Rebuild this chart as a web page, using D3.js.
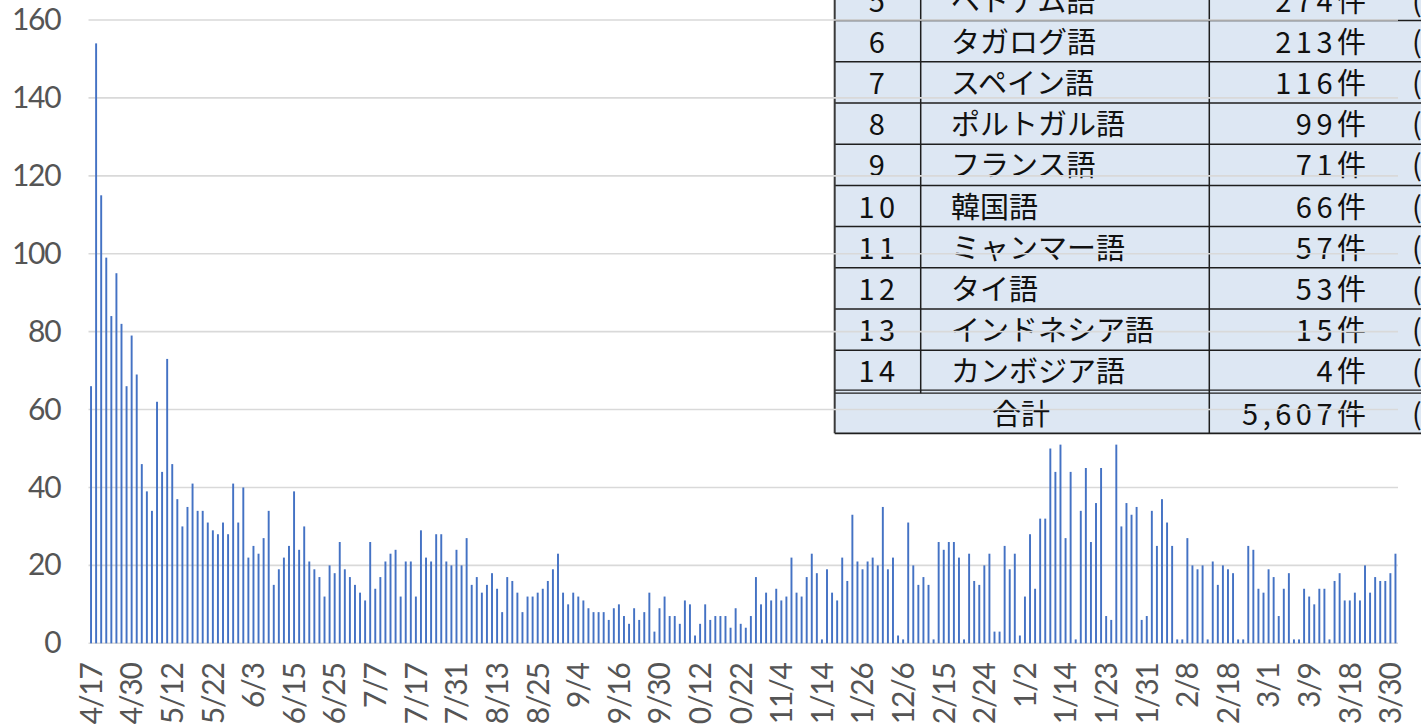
<!DOCTYPE html>
<html lang="ja">
<head>
<meta charset="UTF-8">
<title>件数推移</title>
<script src="https://d3js.org/d3.v7.min.js"></script>
<style>
  body { margin: 0; background: #fff; }
  svg { display: block; }
  .axis text { font-family: Lato, "Open Sans", sans-serif; font-size: 30px; fill: #555; letter-spacing: -1.2px; }
  .tbl text { font-family: "Noto Sans CJK JP", sans-serif; font-size: 29px; fill: #111; }
</style>
</head>
<body>
<svg width="1421" height="725"></svg>
<script>
// daily counts, 4/17 .. 3/31 (258 days shown)
const counts = [
  66,154,115,99,84,95,82,66,79,69,
  46,39,34,62,44,73,46,37,30,35,
  41,34,34,31,29,28,31,28,41,31,
  40,22,25,23,27,34,15,19,22,25,
  39,24,30,21,19,17,12,20,18,26,
  19,17,15,13,11,26,14,17,21,23,
  24,12,21,21,12,29,22,21,28,28,
  21,20,24,20,27,15,17,13,15,18,
  14,8,17,16,13,8,12,12,13,14,
  16,19,23,13,10,13,12,11,9,8,
  8,8,6,9,10,7,5,9,6,8,
  13,3,9,12,7,7,5,11,10,2,
  5,10,6,7,7,7,4,9,5,4,
  7,17,10,13,11,14,11,12,22,13,
  12,17,23,18,1,19,13,11,22,16,
  33,21,19,21,22,20,35,19,22,2,
  1,31,20,15,17,15,1,26,24,26,
  26,22,1,23,16,15,20,23,3,3,
  25,19,23,2,12,28,14,32,32,50,
  44,51,27,44,1,34,45,26,36,45,
  7,6,51,30,36,33,35,6,7,34,
  25,37,31,25,1,1,27,20,19,20,
  1,21,15,20,19,18,1,1,25,24,
  14,13,19,17,7,14,18,1,1,14,
  12,10,14,14,1,16,18,11,11,13,
  11,20,13,17,16,16,18,23
];
// one label every 8th day
const tickLabels = ["4/17","4/30","5/12","5/22","6/3","6/15","6/25","7/7","7/17","7/31",
  "8/13","8/25","9/4","9/16","9/30","10/12","10/22","11/4","11/14","11/26",
  "12/6","12/15","12/24","1/2","1/14","1/23","1/31","2/8","2/18","3/1",
  "3/9","3/18","3/30"];
const yTicks = [0,20,40,60,80,100,120,140,160];

// language table (rows 5-14 visible)
const ranks = [5,6,7,8,9,10,11,12,13,14];
const languages = ["ベトナム語","タガログ語","スペイン語","ポルトガル語","フランス語",
  "韓国語","ミャンマー語","タイ語","インドネシア語","カンボジア語"];
const langCounts = [274,213,116,99,71,66,57,53,15,4];
const totalLabel = "合計";
const totalCount = 5607;

const svg = d3.select("svg");
const plotLeft = 88.5, plotRight = 1398, plotTop = 20, plotBottom = 643.3;

const x = d3.scaleBand()
  .domain(d3.range(counts.length))
  .range([plotLeft, plotRight])
  .paddingInner(0.62)
  .paddingOuter(0.31);

const y = d3.scaleLinear().domain([0, 160]).range([plotBottom, plotTop]);

// ---- table (drawn under the gridlines, like the pasted picture)
const tbl = svg.append("g").attr("class", "tbl");
const rowH = 41.2, firstBorder = 20.6;
const tLeft = 834.7, c1 = 920.7, c2 = 1209.3, tRight = 1500;
const rowTop = i => firstBorder + (i - 1) * rowH;   // row 0 sits above the window
const lastBorder = rowTop(ranks.length);
const totTop = lastBorder + 2.5, totBottom = 433.3;

tbl.append("rect")
  .attr("x", tLeft).attr("y", rowTop(0))
  .attr("width", tRight - tLeft).attr("height", totBottom - rowTop(0))
  .attr("fill", "#dde7f3");

const rows = tbl.selectAll("g.row").data(ranks).join("g").attr("class", "row");
rows.append("text")
  .attr("x", 879).attr("y", (d, i) => rowTop(i) + rowH / 2 + 11.5)
  .attr("text-anchor", "middle").style("letter-spacing", "4.5px")
  .text(d => d);
rows.append("text")
  .attr("x", 951).attr("y", (d, i) => rowTop(i) + rowH / 2 + 11.5)
  .text((d, i) => languages[i]);
const cnt = rows.append("text")
  .attr("x", 1366).attr("y", (d, i) => rowTop(i) + rowH / 2 + 11.5)
  .attr("text-anchor", "end");
cnt.append("tspan").style("letter-spacing", "4.5px").text((d, i) => d3.format(",")(langCounts[i]));
cnt.append("tspan").text("件");
rows.append("text")
  .attr("x", 1412).attr("y", (d, i) => rowTop(i) + rowH / 2 + 11.5)
  .text("(");

const totY = (totTop + totBottom) / 2 + 11;
tbl.append("text").attr("x", 1021).attr("y", totY).attr("text-anchor", "middle").text(totalLabel);
const tc = tbl.append("text").attr("x", 1366).attr("y", totY).attr("text-anchor", "end");
tc.append("tspan").style("letter-spacing", "4.5px").text(d3.format(",")(totalCount));
tc.append("tspan").text("件");
tbl.append("text").attr("x", 1412).attr("y", totY).text("(");

// borders
const line = (x1, y1, x2, y2, w, c) => tbl.append("line")
  .attr("x1", x1).attr("y1", y1).attr("x2", x2).attr("y2", y2)
  .attr("stroke", c || "#1e1e1e").attr("stroke-width", w || 1.5);
d3.range(1, ranks.length).forEach(i => line(tLeft, rowTop(i), tRight, rowTop(i)));
line(tLeft, lastBorder - 1.3, tRight, lastBorder - 1.3, 1.3);
line(tLeft, lastBorder + 1.8, tRight, lastBorder + 1.8, 1.3);
line(tLeft, totBottom, tRight, totBottom, 1.8);
line(tLeft, rowTop(0), tLeft, totBottom, 2, "#3a3a3a");
line(c1, rowTop(0), c1, lastBorder + 1.8, 1.5);
line(c2, rowTop(0), c2, totBottom, 1.5);

// ---- gridlines
svg.append("g")
  .selectAll("line")
  .data(yTicks)
  .join("line")
  .attr("x1", plotLeft).attr("x2", plotRight)
  .attr("y1", d => y(d)).attr("y2", d => y(d))
  .attr("stroke", "#d9d9d9").attr("stroke-width", 1.6);

// ---- bars
svg.append("g")
  .selectAll("rect")
  .data(counts)
  .join("rect")
  .attr("x", (d, i) => x(i))
  .attr("width", x.bandwidth())
  .attr("y", d => y(d))
  .attr("height", d => y(0) - y(d))
  .attr("fill", "#4472c4");

// ---- axes
const yAxis = svg.append("g").attr("class", "axis")
  .attr("transform", `translate(${plotLeft},0)`)
  .call(d3.axisLeft(y).tickValues(yTicks).tickSize(0).tickPadding(28));
yAxis.select(".domain").remove();

const xAxis = svg.append("g").attr("class", "axis")
  .attr("transform", `translate(0,${plotBottom})`)
  .call(d3.axisBottom(x)
    .tickValues(d3.range(0, counts.length, 8))
    .tickFormat(i => tickLabels[i / 8])
    .tickSize(0));
xAxis.select(".domain").remove();
xAxis.selectAll("text")
  .attr("transform", "rotate(-90)")
  .attr("x", -20).attr("y", 0).attr("dy", "0.36em")
  .style("text-anchor", "end");
</script>
</body>
</html>
